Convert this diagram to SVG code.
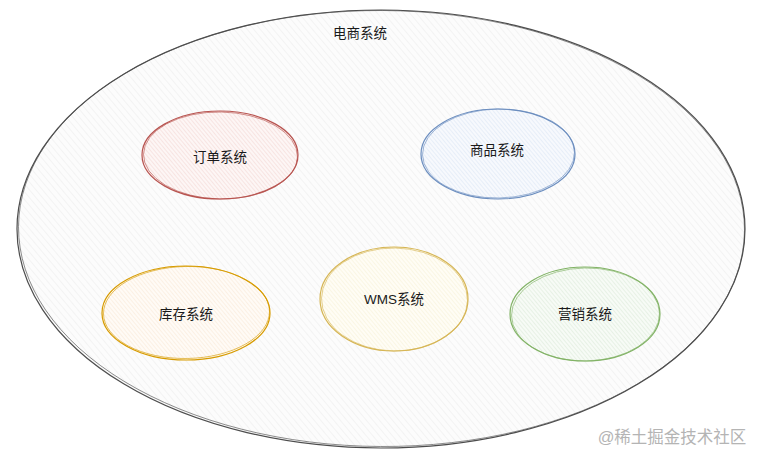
<svg xmlns="http://www.w3.org/2000/svg" width="761" height="461" viewBox="0 0 761 461">
<defs>
<pattern id="hGray" patternUnits="userSpaceOnUse" width="5" height="5" patternTransform="rotate(-40)"><rect width="5" height="5" fill="#fcfcfc"/><line x1="0" y1="0" x2="0" y2="5" stroke="#ebebeb" stroke-width="1"/></pattern>
<pattern id="hRed" patternUnits="userSpaceOnUse" width="3" height="3" patternTransform="rotate(-40)"><rect width="3" height="3" fill="#fdf6f5"/><line x1="0" y1="0" x2="0" y2="3" stroke="#f1d2d0" stroke-width="1"/></pattern>
<pattern id="hBlue" patternUnits="userSpaceOnUse" width="3" height="3" patternTransform="rotate(-40)"><rect width="3" height="3" fill="#f7f9fd"/><line x1="0" y1="0" x2="0" y2="3" stroke="#d8e3f3" stroke-width="1"/></pattern>
<pattern id="hOrange" patternUnits="userSpaceOnUse" width="3" height="3" patternTransform="rotate(-40)"><rect width="3" height="3" fill="#fffbf6"/><line x1="0" y1="0" x2="0" y2="3" stroke="#f8e6d3" stroke-width="1"/></pattern>
<pattern id="hYellow" patternUnits="userSpaceOnUse" width="3" height="3" patternTransform="rotate(-40)"><rect width="3" height="3" fill="#fffdf5"/><line x1="0" y1="0" x2="0" y2="3" stroke="#f6efd3" stroke-width="1"/></pattern>
<pattern id="hGreen" patternUnits="userSpaceOnUse" width="3" height="3" patternTransform="rotate(-40)"><rect width="3" height="3" fill="#f7fbf6"/><line x1="0" y1="0" x2="0" y2="3" stroke="#d8e8d5" stroke-width="1"/></pattern>
</defs>
<style>
text{font-family:"Liberation Sans","Noto Sans CJK SC",sans-serif;font-size:13.5px;fill:#1a1a1a;text-anchor:middle;dominant-baseline:central}
.o{stroke-width:1.2}
.o2{fill:none;stroke-width:0.8;opacity:0.8}
</style>
<rect width="761" height="461" fill="#ffffff"/>
<g id="system">
<ellipse cx="381" cy="229" rx="364" ry="219" fill="url(#hGray)" stroke="#4d4d4d" class="o"/>
<ellipse cx="381.5" cy="228.5" rx="363" ry="218" class="o2" stroke="#4d4d4d" transform="rotate(0.3 381 229)"/>
<text x="360" y="33">电商系统</text>
</g>
<g id="order">
<ellipse cx="220" cy="155" rx="78" ry="44" fill="url(#hRed)" stroke="#b85450" class="o"/>
<ellipse cx="220.5" cy="155.5" rx="77" ry="43.5" class="o2" stroke="#b85450" transform="rotate(1 220 155)"/>
<text x="220" y="157">订单系统</text>
</g>
<g id="product">
<ellipse cx="498" cy="154" rx="77" ry="45" fill="url(#hBlue)" stroke="#6c8ebf" class="o"/>
<ellipse cx="498.5" cy="153.5" rx="76" ry="44.5" class="o2" stroke="#6c8ebf" transform="rotate(-1 498 154)"/>
<text x="497" y="150">商品系统</text>
</g>
<g id="inventory">
<ellipse cx="186" cy="313" rx="84" ry="47" fill="url(#hOrange)" stroke="#d79b00" class="o"/>
<ellipse cx="186.5" cy="312.5" rx="83" ry="46" class="o2" stroke="#d79b00" transform="rotate(-1 186 313)"/>
<text x="186" y="314">库存系统</text>
</g>
<g id="wms">
<ellipse cx="394" cy="299" rx="74" ry="52" fill="url(#hYellow)" stroke="#d6b656" class="o"/>
<ellipse cx="394.5" cy="299.5" rx="73" ry="51.5" class="o2" stroke="#d6b656" transform="rotate(1 394 299)"/>
<text x="394" y="299">WMS系统</text>
</g>
<g id="marketing">
<ellipse cx="585" cy="314" rx="75" ry="47" fill="url(#hGreen)" stroke="#82b366" class="o"/>
<ellipse cx="585.5" cy="314.5" rx="74" ry="46.5" class="o2" stroke="#82b366" transform="rotate(-1 585 314)"/>
<text x="585" y="314">营销系统</text>
</g>
<g id="connectors"></g>
<text x="672" y="437" style="font-size:16.5px;fill:#b4b4b4">@稀土掘金技术社区</text>
</svg>
